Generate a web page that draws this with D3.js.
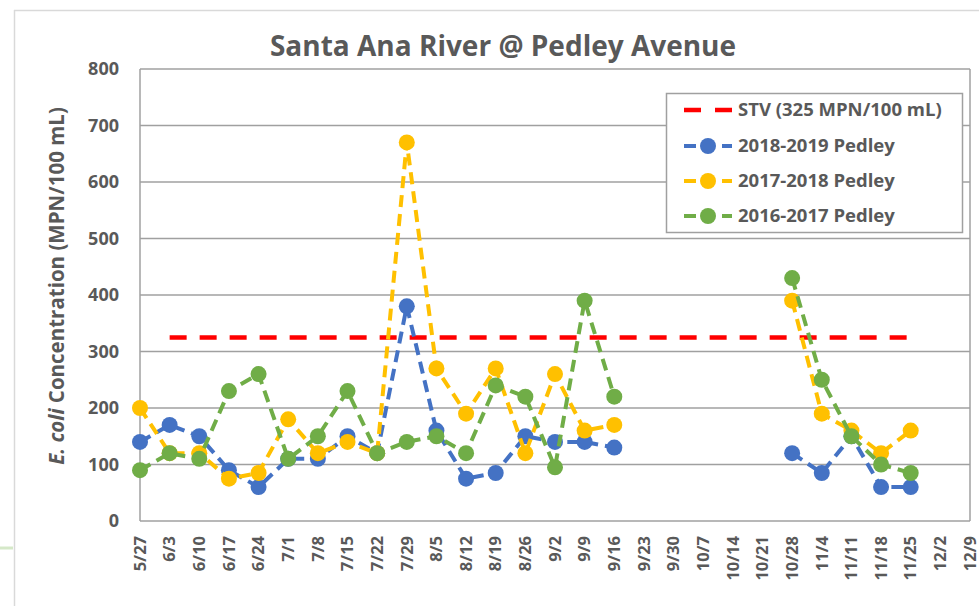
<!DOCTYPE html>
<html>
<head>
<meta charset="utf-8">
<script src="https://cdn.jsdelivr.net/npm/d3@7"></script>
<style>
  body { margin: 0; background: #fff; }
  svg { display: block; }
  text { font-family: "Open Sans", Lato, sans-serif; fill: #595959; font-weight: bold; }
</style>
</head>
<body>
<svg id="chart" width="979" height="606"></svg>
<script>
// week labels on the x axis
var dates = ["5/27", "6/3", "6/10", "6/17", "6/24", "7/1", "7/8", "7/15", "7/22", "7/29",
    "8/5", "8/12", "8/19", "8/26", "9/2", "9/9", "9/16", "9/23", "9/30", "10/7",
    "10/14", "10/21", "10/28", "11/4", "11/11", "11/18", "11/25", "12/2", "12/9"];

// E. coli values, null = no sample that week
var pedley1819 = [140, 170, 150, 90, 60, 110, 110, 150, 120, 380,
    160, 75, 85, 150, 140, 140, 130, null, null, null,
    null, null, 120, 85, 150, 60, 60, null, null];
var pedley1718 = [200, 120, 120, 75, 85, 180, 120, 140, 120, 670,
    270, 190, 270, 120, 260, 160, 170, null, null, null,
    null, null, 390, 190, 160, 120, 160, null, null];
var pedley1617 = [90, 120, 110, 230, 260, 110, 150, 230, 120, 140,
    150, 120, 240, 220, 95, 390, 220, null, null, null,
    null, null, 430, 250, 150, 100, 85, null, null];
var stv = [null, 325, 325, 325, 325, 325, 325, 325, 325, 325,
    325, 325, 325, 325, 325, 325, 325, 325, 325, 325,
    325, 325, 325, 325, 325, 325, 325, null, null];

var yTicks = [0, 100, 200, 300, 400, 500, 600, 700, 800];

var seriesNames = ["STV (325 MPN/100 mL)", "2018-2019 Pedley", "2017-2018 Pedley", "2016-2017 Pedley"];
var seriesColors = ["#ff0000", "#4472c4", "#ffc000", "#70ad47"];

var svg = d3.select("#chart");
var plotLeft = 140, plotRight = 970, plotTop = 69, plotBottom = 521;

var x = d3.scalePoint().domain(dates).range([plotLeft, plotRight]).padding(0);
var y = d3.scaleLinear().domain([0, 800]).range([plotBottom, plotTop]);

// outer chart frame (partly cropped in the picture)
svg.append("line").attr("x1", 14.5).attr("x2", 14.5).attr("y1", 10).attr("y2", 606)
    .attr("stroke", "#d9d9d9").attr("stroke-width", 1.5);
svg.append("line").attr("x1", 14).attr("x2", 979).attr("y1", 10.5).attr("y2", 10.5)
    .attr("stroke", "#d9d9d9").attr("stroke-width", 1.5);
svg.append("line").attr("x1", 0).attr("x2", 13).attr("y1", 548).attr("y2", 548)
    .attr("stroke", "#d5e8c8").attr("stroke-width", 3);

// gridlines
svg.append("g")
    .selectAll("line")
    .data(yTicks)
    .enter()
    .append("line")
    .attr("x1", plotLeft).attr("x2", plotRight)
    .attr("y1", function(d) { return y(d); })
    .attr("y2", function(d) { return y(d); })
    .attr("stroke", "#a0a0a0")
    .attr("stroke-width", 1.5);

// plot frame
svg.append("line").attr("x1", plotLeft).attr("x2", plotLeft).attr("y1", plotTop).attr("y2", plotBottom)
    .attr("stroke", "#a0a0a0").attr("stroke-width", 1.5);
svg.append("line").attr("x1", plotRight).attr("x2", plotRight).attr("y1", plotTop).attr("y2", plotBottom)
    .attr("stroke", "#a0a0a0").attr("stroke-width", 1.5);

// y tick labels
svg.append("g")
    .selectAll("text")
    .data(yTicks)
    .enter()
    .append("text")
    .attr("x", 119)
    .attr("y", function(d) { return y(d); })
    .attr("dy", "0.35em")
    .attr("text-anchor", "end")
    .style("font-size", "18px")
    .text(function(d) { return d; });

// x tick labels, rotated
svg.append("g")
    .selectAll("text")
    .data(dates)
    .enter()
    .append("text")
    .attr("transform", function(d) { return "translate(" + x(d) + ",536) rotate(-90)"; })
    .attr("dy", "0.35em")
    .attr("text-anchor", "end")
    .style("font-size", "16.5px")
    .text(function(d) { return d; });

// title
svg.append("text")
    .attr("x", 503)
    .attr("y", 56)
    .attr("text-anchor", "middle")
    .style("font-size", "28px")
    .text("Santa Ana River @ Pedley Avenue");

// y axis title
var yTitle = svg.append("text")
    .attr("transform", "translate(64,286) rotate(-90)")
    .attr("text-anchor", "middle")
    .style("font-size", "20.5px");
yTitle.append("tspan").style("font-style", "italic").text("E. coli");
yTitle.append("tspan").text(" Concentration (MPN/100 mL)");

// series
var line = d3.line()
    .defined(function(d) { return d.v != null; })
    .x(function(d) { return x(d.date); })
    .y(function(d) { return y(d.v); });

function toPoints(values) {
    return values.map(function(v, i) { return {date: dates[i], v: v}; });
}

// STV threshold
svg.append("path")
    .datum(toPoints(stv))
    .attr("d", line)
    .attr("fill", "none")
    .attr("stroke", seriesColors[0])
    .attr("stroke-width", 4.5)
    .attr("stroke-dasharray", "17,13");

var seasons = [pedley1819, pedley1718, pedley1617];
seasons.forEach(function(values, i) {
    var color = seriesColors[i + 1];
    var pts = toPoints(values);
    var g = svg.append("g");
    g.append("path")
        .datum(pts)
        .attr("d", line)
        .attr("fill", "none")
        .attr("stroke", color)
        .attr("stroke-width", 4)
        .attr("stroke-dasharray", "12,7");
    g.selectAll("circle")
        .data(pts.filter(function(d) { return d.v != null; }))
        .enter()
        .append("circle")
        .attr("cx", function(d) { return x(d.date); })
        .attr("cy", function(d) { return y(d.v); })
        .attr("r", 8)
        .attr("fill", color);
});

// legend
var legend = svg.append("g");
legend.append("rect")
    .attr("x", 666.5).attr("y", 93.5)
    .attr("width", 296).attr("height", 139)
    .attr("fill", "#fff")
    .attr("stroke", "#a0a0a0")
    .attr("stroke-width", 1.5);

var rowY = [110, 146, 181, 216];
seriesNames.forEach(function(name, i) {
    var ry = rowY[i];
    if (i === 0) {
        legend.append("line")
            .attr("x1", 684).attr("x2", 732).attr("y1", ry).attr("y2", ry)
            .attr("stroke", seriesColors[i]).attr("stroke-width", 4.5)
            .attr("stroke-dasharray", "17,14");
    } else {
        legend.append("line")
            .attr("x1", 684).attr("x2", 732).attr("y1", ry).attr("y2", ry)
            .attr("stroke", seriesColors[i]).attr("stroke-width", 4)
            .attr("stroke-dasharray", "12,7");
        legend.append("circle")
            .attr("cx", 708).attr("cy", ry).attr("r", 8)
            .attr("fill", seriesColors[i]);
    }
    legend.append("text")
        .attr("x", 738).attr("y", ry)
        .attr("dy", "0.35em")
        .style("font-size", "18.5px")
        .text(name);
});
</script>
</body>
</html>
